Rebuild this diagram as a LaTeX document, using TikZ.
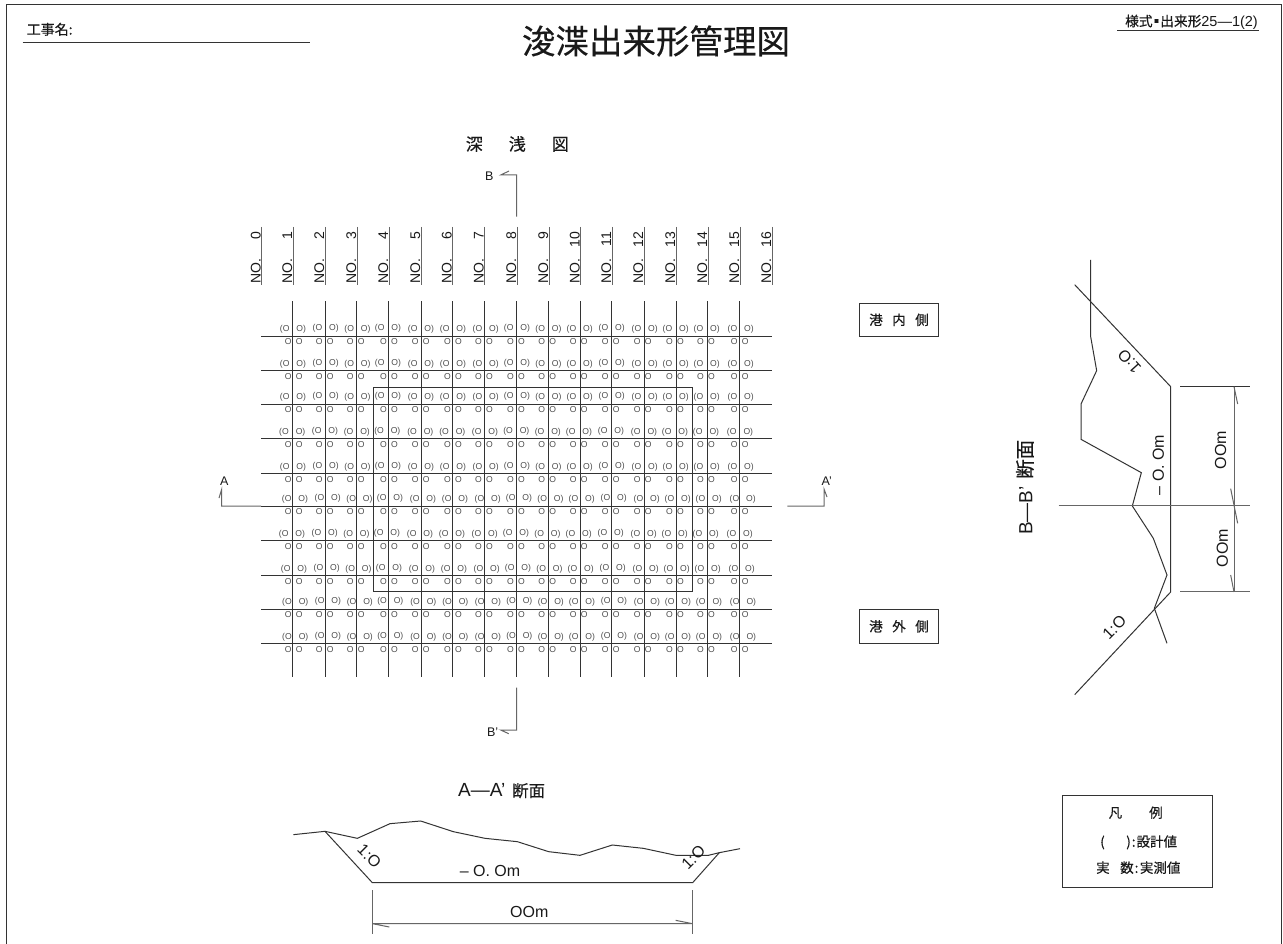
\documentclass[tikz,border=0pt]{standalone}
\usepackage{fontspec}
\setmainfont{Liberation Sans}
\newfontfamily\cjk[FakeBold=0.35]{Noto Sans CJK JP}
\newcommand{\fs}[1]{\fontsize{#1}{#1}\selectfont}
\definecolor{ink}{gray}{0.2}
\definecolor{txt}{gray}{0.1}
\definecolor{val}{gray}{0.3}
\tikzset{
  txt/.style={inner sep=0pt,text=txt},
  line/.style={draw=ink,line width=1pt,line join=miter},
  thin line/.style={draw=ink!75,line width=1pt},
  grid line/.style={draw=ink,line width=1pt},
  zone box/.style={draw=ink,line width=1pt,minimum width=79.5pt,minimum height=33.5pt,inner sep=0pt,text=txt,font=\cjk\fs{13.5}},
  upper val/.style={inner sep=0pt,text=val,font=\fs{8.6}},
  lower val/.style={inner sep=0pt,text=val,font=\fs{8.6}},
  no label/.style={inner sep=0pt,text=txt,rotate=90,anchor=base west,font=\fs{14}},
}
\begin{document}
\begin{tikzpicture}[x=1pt,y=-1pt]
\useasboundingbox (0,0) rectangle (1283,944);
\fill[white] (0,0) rectangle (1283,944);
% frame
\draw[draw=ink,line width=1.2pt] (6.5,944) -- (6.5,4.5) -- (1281.5,4.5) -- (1281.5,944);
% headings
\node[txt,font=\cjk\fs{33.5}] (title) at (656,41) {浚渫出来形管理図};
\node[txt,font=\cjk\fs{14},anchor=west] (koji) at (26.5,29.3) {工事名:};
\coordinate (kojiA) at (22.7,42.5); \coordinate (kojiB) at (310,42.5);
\draw[line] (kojiA) -- (kojiB);
\node[txt,font=\fs{14.5},anchor=east] (yoshiki) at (1258,22) {{\cjk\fs{13.7} 様式\hspace{-3pt}▪\hspace{-3pt}出来形}25—1(2)};
\coordinate (yoA) at (1117,30.5); \coordinate (yoB) at (1259,30.5);
\draw[line] (yoA) -- (yoB);
\node[txt,font=\cjk\fs{17}] (shinsen) at (517.3,144) {深\hspace{26pt}浅\hspace{26pt}図};
% NO labels
\foreach \i/\xx/\lab in {0/261.7/{ 0},1/293/{ 1},2/325/{ 2},3/357/{ 3},4/389/{ 4},5/421/{ 5},6/452.5/{ 6},7/484.5/{ 7},8/517/{ 8},9/549/{ 9},10/580.5/{10},11/612/{11},12/644/{12},13/676/{13},14/708/{14},15/740/{15},16/772/{16}} {
  \node[no label] (no\i) at (\xx-1,284) {\makebox[52pt][l]{NO.\hfill\lab}};
  \draw[thin line] (\xx,227) -- (\xx,285);
}
% grid
\foreach \yy in {336,370.3,404,438.7,473.3,506,540.3,575.3,609,643.3}
  \draw[grid line] (261,\yy) -- (772,\yy);
\foreach \xx in {292.7,325,356.7,388.7,421.3,452.3,484.3,516.7,548.3,580.7,611.7,644,676,707.3,739.7}
  \draw[grid line] (\xx,301) -- (\xx,677);
\draw[line] (373,387.3) rectangle (692,591.7);
% values
\foreach \r/\yy/\sh in {0/336/0,1/370.3/0,2/404/0,3/438.7/-0.7,4/473.3/0,5/506/2,6/540.3/-1,7/575.3/1,8/609/2.3,9/643.3/2.3} {
  \foreach \c/\xu/\xl/\dy in {1/293/293.7/0,2/325.7/324.7/-1,3/357.5/355.7/0,4/388/389/-1,5/421/420.7/0,6/453/453/0,7/485.7/484/0,8/517/516/-1,9/548.5/547.3/0,10/579.7/578.8/0,11/611.7/610.8/-1,12/644.7/642.8/0,13/675.7/675/0,14/706.7/706/0,15/740.7/739.7/0} {
    \node[upper val] (u\c-\r) at (\xu+\sh,\yy-6.3+\dy) {(O\hspace{7pt}O)};
    \node[lower val] (l\c-\r) at (\xl,\yy+5.8) {O\hspace{4.3pt}O};
  }
}
% section marks
\node[txt,font=\fs{12.5}] (markA) at (224.3,480.7) {A};
\draw[thin line] (261,506) -- (221.7,506) -- (221.7,489.3) -- (219,498);
\node[txt,font=\fs{12.5}] (markAp) at (826.7,480.7) {A'};
\draw[thin line] (787.3,506) -- (824,506) -- (824,489) -- (827,497);
\node[txt,font=\fs{12.5}] (markB) at (489.3,176.7) {B};
\draw[thin line] (516.7,216.7) -- (516.7,175) -- (500.7,175) -- (509,171);
\node[txt,font=\fs{12.5}] (markBp) at (492.7,731.7) {B'};
\draw[thin line] (516.7,687.7) -- (516.7,730) -- (500.7,730) -- (508.7,733.7);
% zone boxes
\node[zone box] (naiko) at (899,319.8) {港\hspace{9.5pt}内\hspace{9.5pt}側};
\node[zone box] (gaiko) at (899,626.3) {港\hspace{9.5pt}外\hspace{9.5pt}側};
% legend
\draw[line] (1062,795.3) rectangle (1212.7,887.7);
\node[txt,font=\cjk\fs{13.5}] (hanrei) at (1135.7,812.7) {凡\hspace{27pt}例};
\node[txt,font=\cjk\fs{13.5},anchor=west] (leg1) at (1100,842.3) {(\hspace{21.5pt})\hspace{1pt}:\hspace{1pt}設計値};
\node[txt,font=\cjk\fs{13.5},anchor=west] (leg2) at (1096,867.7) {実\hspace{10.5pt}数\hspace{1pt}:\hspace{1.5pt}実測値};
% A-A' section
\begin{scope}[xshift=280pt,yshift=-770pt,x=0.33333pt,y=-0.33333pt]
  \node[txt,font=\fs{19}] (aaTitle) at (665,62) {A—A'\hspace{3pt}{\cjk\fs{16.5} 断面}};
  \draw[line] (40,194) -- (135,184) -- (232,205) -- (330,161) -- (422,153) -- (520,185) -- (615,205) -- (712,215) -- (806,245) -- (900,256) -- (997,225) -- (1090,235) -- (1188,256) -- (1285,256) -- (1318,248) -- (1380,236);
  \draw[line] (135,184) -- (277,338) -- (1238,338) -- (1318,248);
  \draw[thin line] (277,360) -- (277,492);
  \draw[thin line] (1237,360) -- (1237,492);
  \draw[thin line] (328,471) -- (277,461) -- (1237,461) -- (1187,451);
  \node[txt,font=\fs{16}] (aaDepth) at (630,302) {– O. Om};
  \node[txt,font=\fs{16}] (aaWidth) at (748,425) {OOm};
  \node[txt,font=\fs{16},rotate=-45] (aaL) at (268,258) {1:O};
  \node[txt,font=\fs{16},rotate=45] (aaR) at (1240,262) {1:O};
\end{scope}
% B-B' section
\begin{scope}[xshift=1000pt,yshift=-250pt,x=0.33333pt,y=-0.33333pt]
  \node[txt,font=\fs{19},rotate=90] (bbTitle) at (75,712) {B—B'\hspace{3pt}{\cjk\fs{19.5} 断面}};
  \draw[line] (272,30) -- (272,260) -- (290,362) -- (243,462) -- (243,568) -- (424,668) -- (397,768) -- (460,865) -- (501,975) -- (463,1075) -- (501,1180);
  \draw[line] (224,104) -- (512,410) -- (512,1026) -- (224,1334);
  \draw[thin line] (176,768) -- (750,768);
  \draw[line] (540,410) -- (750,410);
  \draw[thin line] (540,1026) -- (750,1026);
  \draw[thin line] (702,410) -- (702,1026);
  \draw[thin line] (702,410) -- (713,462);
  \draw[thin line] (692,716) -- (713,820);
  \draw[thin line] (692,975) -- (702,1026);
  \node[txt,font=\fs{16},rotate=90] (bbDepth) at (475,645) {– O. Om};
  \node[txt,font=\fs{16},rotate=90] (bbW1) at (662,600) {OOm};
  \node[txt,font=\fs{16},rotate=90] (bbW2) at (667,895) {OOm};
  \node[txt,font=\fs{16},rotate=132] (bbU) at (388,335) {1:O};
  \node[txt,font=\fs{16},rotate=45] (bbL) at (343,1132) {1:O};
\end{scope}
\end{tikzpicture}
\end{document}
